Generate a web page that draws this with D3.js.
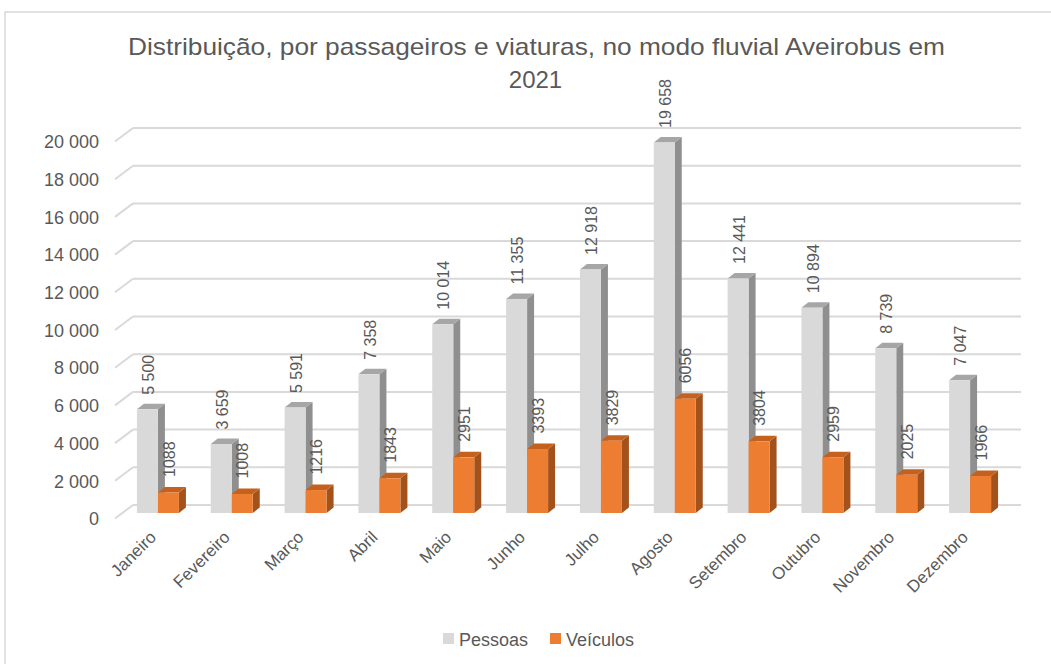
<!DOCTYPE html>
<html>
<head>
<meta charset="utf-8">
<script src="https://cdn.jsdelivr.net/npm/d3@7"></script>
<style>
  body { margin: 0; background: #fff; }
  text { font-family: "Liberation Sans", Arial, sans-serif; fill: #595959; }
</style>
</head>
<body>
<div id="chart"></div>
<script>
// Data
const meses = ["Janeiro", "Fevereiro", "Março", "Abril", "Maio", "Junho",
               "Julho", "Agosto", "Setembro", "Outubro", "Novembro", "Dezembro"];
const pessoas = [5500, 3659, 5591, 7358, 10014, 11355, 12918, 19658, 12441, 10894, 8739, 7047];
const veiculos = [1088, 1008, 1216, 1843, 2951, 3393, 3829, 6056, 3804, 2959, 2025, 1966];
const series = ["Pessoas", "Veículos"];
const yTicks = [0, 2000, 4000, 6000, 8000, 10000, 12000, 14000, 16000, 18000, 20000];

const width = 1051;
const height = 664;

// colours: front, side, top
const cores = {
   "Pessoas":  { front: "#d9d9d9", side: "#8f8f8f", top: "#a6a6a6" },
   "Veículos": { front: "#ed7d31", side: "#a3521c", top: "#c4611f" }
};

// thousands with a space, like the original
const pt = d3.formatLocale({ decimal: ",", thousands: " ", grouping: [3], currency: ["", ""] });
const fmt = pt.format(",");

const svg = d3.select("#chart")
   .append("svg")
   .attr("width", width)
   .attr("height", height);

// chart area border
svg.append("rect")
   .attr("x", 5)
   .attr("y", 12)
   .attr("width", 1100)
   .attr("height", 700)
   .attr("fill", "none")
   .attr("stroke", "#d9d9d9")
   .attr("stroke-width", 1.5);

// Scales
const x = d3.scaleBand()
   .domain(meses)
   .range([121, 1007]);

const barW = 21;
const xs = d3.scaleBand()
   .domain(series)
   .range([x.bandwidth() / 2 - barW, x.bandwidth() / 2 + barW]);

const y = d3.scaleLinear()
   .domain([0, 20000])
   .range([513, 136]);

// 3D offsets
const depthX = 7, depthY = 5.5;     // bar depth
const wallX = 133, wallRight = 1021; // back wall
const backDy = -8, frontDy = 5.5, frontX = 115;

// Gridlines: slanted piece on the side wall plus line on back wall
const grid = svg.append("g").attr("class", "grid");
grid.selectAll(".slant")
   .data(yTicks)
   .enter().append("line")
   .attr("x1", frontX)
   .attr("y1", d => y(d) + frontDy)
   .attr("x2", wallX)
   .attr("y2", d => y(d) + backDy)
   .attr("stroke", "#d9d9d9")
   .attr("stroke-width", 2);
grid.selectAll(".back")
   .data(yTicks)
   .enter().append("line")
   .attr("x1", wallX)
   .attr("y1", d => y(d) + backDy)
   .attr("x2", wallRight)
   .attr("y2", d => y(d) + backDy)
   .attr("stroke", "#d9d9d9")
   .attr("stroke-width", 2);

// Y axis
svg.append("g")
   .attr("transform", `translate(${frontX}, 6)`)
   .call(d3.axisLeft(y).tickValues(yTicks).tickFormat(fmt).tickSize(0).tickPadding(16))
   .call(g => g.select(".domain").remove())
   .selectAll("text")
   .style("font-size", "18px")
   .style("font-family", "Liberation Sans, Arial, sans-serif")
   .attr("fill", "#595959");

// X axis labels, rotated
svg.append("g")
   .attr("transform", "translate(0, 534)")
   .call(d3.axisBottom(x).tickSize(0).tickPadding(0))
   .call(g => g.select(".domain").remove())
   .selectAll("text")
   .attr("text-anchor", "end")
   .attr("y", 0)
   .attr("dy", "0.35em")
   .attr("transform", "translate(-5, 0) rotate(-45)")
   .style("font-size", "17px")
   .style("font-family", "Liberation Sans, Arial, sans-serif")
   .attr("fill", "#595959");

// one row per month
const rows = meses.map((m, i) => ({ mes: m, "Pessoas": pessoas[i], "Veículos": veiculos[i] }));

function drawBar(g, x0, v, c) {
   const x1 = x0 + barW;
   const yt = y(v), yb = y(0);
   g.append("path")
      .attr("d", `M${x1},${yb} L${x1 + depthX},${yb - depthY} L${x1 + depthX},${yt - depthY} L${x1},${yt} Z`)
      .attr("fill", c.side);
   g.append("path")
      .attr("d", `M${x0},${yt} L${x0 + depthX},${yt - depthY} L${x1 + depthX},${yt - depthY} L${x1},${yt} Z`)
      .attr("fill", c.top);
   g.append("rect")
      .attr("x", x0)
      .attr("y", yt)
      .attr("width", barW)
      .attr("height", yb - yt)
      .attr("fill", c.front);
}

const groups = svg.selectAll(".mes")
   .data(rows)
   .enter().append("g")
   .attr("class", "mes");

groups.each(function(d) {
   const g = d3.select(this);
   series.forEach(s => drawBar(g, x(d.mes) + xs(s), d[s], cores[s]));
});

// Data labels, vertical
groups.each(function(d) {
   const g = d3.select(this);
   series.forEach(s => {
      const cx = x(d.mes) + xs(s) + barW / 2 + (s === "Pessoas" ? 1 : 0.5);
      const ty = y(d[s]) - depthY - (s === "Pessoas" ? 9 : 10);
      g.append("text")
         .attr("transform", `translate(${cx}, ${ty}) rotate(-90)`)
         .attr("dy", "0.35em")
         .attr("text-anchor", "start")
         .style("font-size", "16px")
         .text(s === "Pessoas" ? fmt(d[s]) : d[s]);
   });
});

// Title
svg.append("text")
   .attr("x", 536.5)
   .attr("y", 55)
   .attr("text-anchor", "middle")
   .attr("textLength", 817)
   .attr("lengthAdjust", "spacingAndGlyphs")
   .style("font-size", "24px")
   .text("Distribuição, por passageiros e viaturas, no modo fluvial Aveirobus em");
svg.append("text")
   .attr("x", 535.5)
   .attr("y", 88)
   .attr("text-anchor", "middle")
   .style("font-size", "24px")
   .text("2021");

// Legend
const legendX = [443, 550];
const legend = svg.selectAll(".legend")
   .data(series)
   .enter().append("g")
   .attr("class", "legend")
   .attr("transform", (d, i) => `translate(${legendX[i]}, 633)`);
legend.append("rect")
   .attr("width", 11)
   .attr("height", 11)
   .attr("fill", d => cores[d].front);
legend.append("text")
   .attr("x", 16)
   .attr("y", 13)
   .style("font-size", "18px")
   .text(d => d);
</script>
</body>
</html>
